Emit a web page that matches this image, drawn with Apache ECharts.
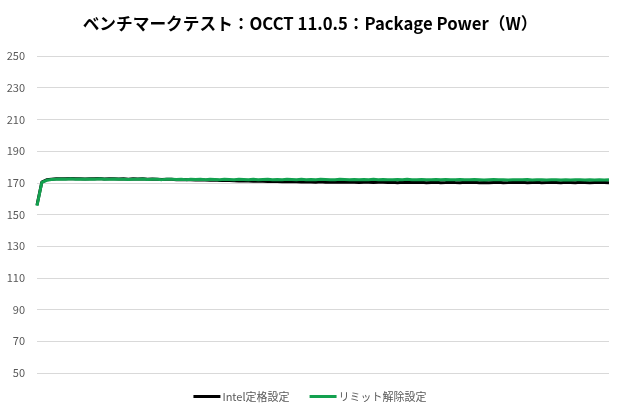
<!DOCTYPE html>
<html>
<head>
<meta charset="utf-8">
<script src="https://cdn.jsdelivr.net/npm/echarts@6/dist/echarts.min.js"></script>
<style>
  html, body { margin: 0; padding: 0; background: #fff; }
  #chart { width: 620px; height: 415px; }
</style>
</head>
<body>
<div id="chart"></div>
<script>
// y axis ticks
var yMin = 50, yMax = 250, yStep = 20

var seriesNames = ['Intel定格設定', 'リミット解除設定']

// Intel定格設定
var intelData = [
  156.0, 170.4, 171.9, 172.3, 172.5, 172.6, 172.5, 172.7, 172.5, 172.6,
  172.4, 172.6, 172.5, 172.7, 172.4, 172.5, 172.6, 172.4, 172.5, 172.3,
  172.5, 172.4, 172.6, 172.3, 172.4, 172.3, 172.1, 172.3, 172.2, 172.0,
  172.1, 171.9, 172.0, 171.8, 171.9, 171.7, 171.6, 171.7, 171.5, 171.4,
  171.5, 171.3, 171.2, 171.3, 171.1, 171.0, 171.1, 170.9, 170.8, 170.9,
  170.8, 170.7, 170.8, 170.6, 170.7, 170.5, 170.6, 170.5, 170.4, 170.6,
  170.4, 170.5, 170.3, 170.4, 170.5, 170.3, 170.4, 170.2, 170.4, 170.3,
  170.2, 170.3, 170.4, 170.2, 170.3, 170.1, 170.3, 170.2, 170.4, 170.2,
  170.3, 170.1, 170.2, 170.3, 170.1, 170.2, 170.4, 170.2, 170.1, 170.3,
  170.2, 170.3, 170.1, 170.2, 170.0, 170.2, 170.3, 170.1, 170.2, 170.4,
  170.2, 170.3, 170.1, 170.2, 170.3, 170.1, 170.2, 170.3, 170.2, 170.1,
  170.3, 170.2, 170.1, 170.3, 170.2, 170.1, 170.2, 170.3, 170.2, 170.1
]

// リミット解除設定
var unlimitedData = [
  155.5, 170.2, 171.6, 172.1, 172.3, 172.4, 172.2, 172.5, 172.3, 172.4,
  172.2, 172.4, 172.3, 172.5, 172.2, 172.3, 172.4, 172.2, 172.3, 172.1,
  172.3, 172.2, 172.4, 172.1, 172.3, 172.2, 172.0, 172.3, 172.2, 172.1,
  172.3, 172.0, 172.2, 172.1, 172.3, 172.0, 172.2, 172.1, 171.9, 172.2,
  172.1, 172.0, 172.2, 172.1, 171.9, 172.2, 172.0, 172.1, 172.2, 171.9,
  172.1, 172.0, 172.2, 172.1, 172.0, 172.2, 171.9, 172.1, 172.0, 172.2,
  172.1, 171.9, 172.0, 172.2, 172.1, 172.0, 172.1, 171.9, 172.1, 172.0,
  172.2, 172.0, 172.1, 171.9, 172.0, 172.1, 172.0, 172.2, 171.9, 172.0,
  172.1, 172.0, 171.9, 172.1, 172.0, 172.1, 171.9, 172.0, 172.1, 172.0,
  171.9, 172.1, 172.0, 171.8, 172.0, 172.1, 171.9, 172.0, 171.8, 171.9,
  172.0, 171.9, 172.1, 171.8, 171.9, 172.0, 171.8, 171.9, 172.0, 171.8,
  171.9, 171.8, 172.0, 171.9, 171.8, 171.9, 171.8, 171.9, 171.8, 171.9
]

var samples = intelData.map(function (v, i) { return i })

var chart = echarts.init(document.getElementById('chart'))
var option = {
  backgroundColor: '#fff',
  animation: false,
  textStyle: { fontFamily: '"Noto Sans CJK JP", "Noto Sans", sans-serif' },
  title: {
    text: 'ベンチマークテスト：OCCT 11.0.5：Package Power（W）',
    left: 'center',
    top: 10,
    textStyle: { fontSize: 16.7, fontWeight: 'bold', color: '#000' }
  },
  legend: {
    data: seriesNames,
    bottom: 8,
    left: 'center',
    icon: 'rect',
    itemWidth: 27,
    itemHeight: 3,
    itemGap: 20,
    textStyle: { fontSize: 11, color: '#595959', padding: [0, 0, 0, -3] }
  },
  grid: {
    left: 37,
    right: 11,
    top: 56,
    bottom: 42,
    containLabel: false
  },
  xAxis: {
    type: 'category',
    data: samples,
    boundaryGap: false,
    axisLine: { show: false },
    axisTick: { show: false },
    axisLabel: { show: false },
    splitLine: { show: false }
  },
  yAxis: {
    type: 'value',
    min: yMin,
    max: yMax,
    interval: yStep,
    axisLine: { show: false },
    axisTick: { show: false },
    axisLabel: { fontSize: 11, color: '#595959', margin: 12 },
    splitLine: { lineStyle: { color: '#d9d9d9', width: 1 } }
  },
  series: [
    {
      name: seriesNames[0],
      type: 'line',
      data: intelData,
      symbol: 'none',
      color: '#000000',
      lineStyle: { width: 3 }
    },
    {
      name: seriesNames[1],
      type: 'line',
      data: unlimitedData,
      symbol: 'none',
      color: '#13a14f',
      lineStyle: { width: 3 }
    }
  ]
}
chart.setOption(option)
</script>
</body>
</html>
